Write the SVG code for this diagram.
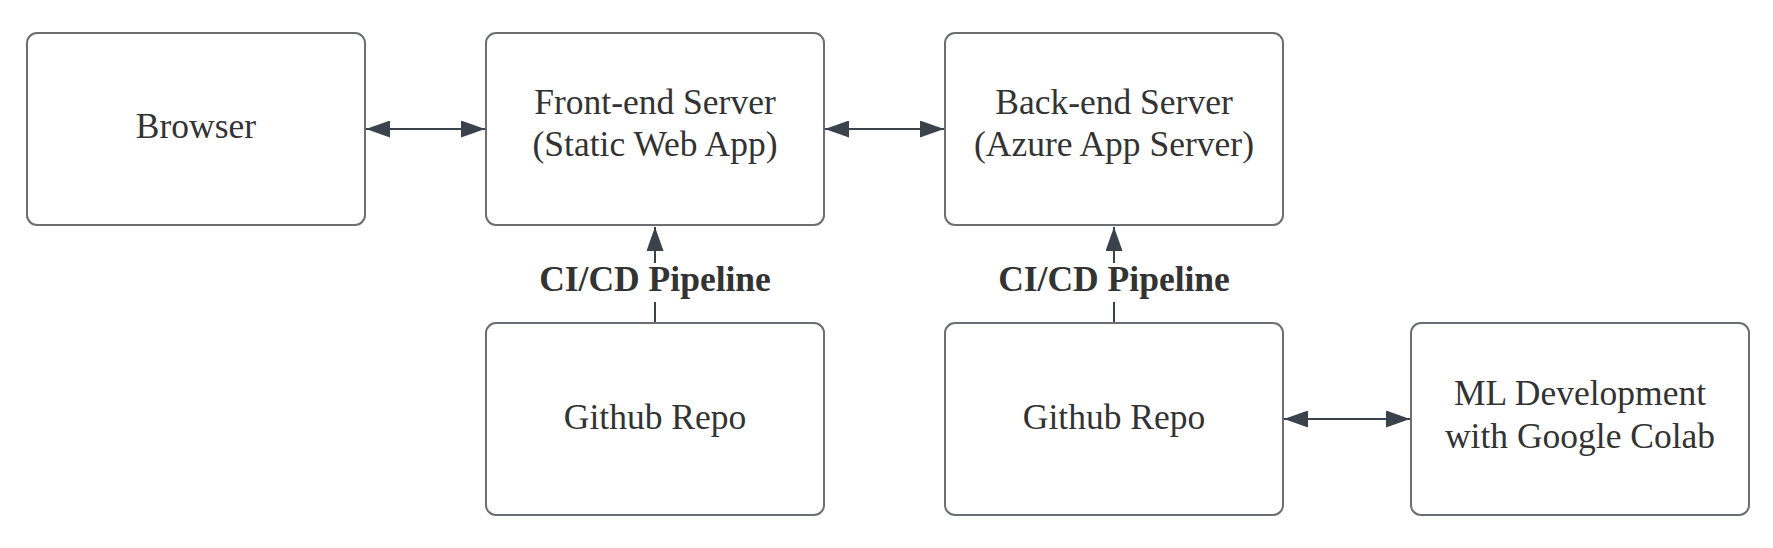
<svg xmlns="http://www.w3.org/2000/svg" width="1773" height="548" viewBox="0 0 1773 548">
<style>
.box{fill:#ffffff;stroke:#6b6e73;stroke-width:2}
.lbl{font-family:"Liberation Serif","Times New Roman",serif;font-size:35.5px;fill:#333333;text-anchor:middle}
.edge{stroke:#3a424c;stroke-width:2;fill:none}
.elbl{font-family:"Liberation Serif","Times New Roman",serif;font-size:35.5px;font-weight:bold;fill:#333333;text-anchor:middle}
</style>
<defs>
<marker id="ah" viewBox="0 0 24 17" refX="24" refY="8.5" markerWidth="24" markerHeight="17" markerUnits="userSpaceOnUse" orient="auto-start-reverse">
<path d="M0,0 L24,8.5 L0,17 Z" fill="#3a424c"/>
</marker>
</defs>
<rect width="1773" height="548" fill="#ffffff"/>
<g id="connectors">
<line class="edge" x1="366" y1="129" x2="485" y2="129" marker-start="url(#ah)" marker-end="url(#ah)"/>
<line class="edge" x1="825" y1="129" x2="944" y2="129" marker-start="url(#ah)" marker-end="url(#ah)"/>
<line class="edge" x1="655" y1="323" x2="655" y2="302"/>
<line class="edge" x1="655" y1="263" x2="655" y2="227" marker-end="url(#ah)"/>
<text class="elbl" x="655" y="291">CI/CD Pipeline</text>
<line class="edge" x1="1114" y1="323" x2="1114" y2="302"/>
<line class="edge" x1="1114" y1="263" x2="1114" y2="227" marker-end="url(#ah)"/>
<text class="elbl" x="1114" y="291">CI/CD Pipeline</text>
<line class="edge" x1="1284" y1="419" x2="1410" y2="419" marker-start="url(#ah)" marker-end="url(#ah)"/>
</g>
<g id="browser">
<rect class="box" x="27" y="33" width="338" height="192" rx="10"/>
<text class="lbl" x="196" y="138">Browser</text>
</g>
<g id="frontend">
<rect class="box" x="486" y="33" width="338" height="192" rx="10"/>
<text class="lbl" x="655" y="114">Front-end Server</text>
<text class="lbl" x="655" y="156">(Static Web App)</text>
</g>
<g id="backend">
<rect class="box" x="945" y="33" width="338" height="192" rx="10"/>
<text class="lbl" x="1114" y="114">Back-end Server</text>
<text class="lbl" x="1114" y="156">(Azure App Server)</text>
</g>
<g id="github1">
<rect class="box" x="486" y="323" width="338" height="192" rx="10"/>
<text class="lbl" x="655" y="429">Github Repo</text>
</g>
<g id="github2">
<rect class="box" x="945" y="323" width="338" height="192" rx="10"/>
<text class="lbl" x="1114" y="429">Github Repo</text>
</g>
<g id="ml">
<rect class="box" x="1411" y="323" width="338" height="192" rx="10"/>
<text class="lbl" x="1580" y="405">ML Development</text>
<text class="lbl" x="1580" y="448">with Google Colab</text>
</g>
</svg>
